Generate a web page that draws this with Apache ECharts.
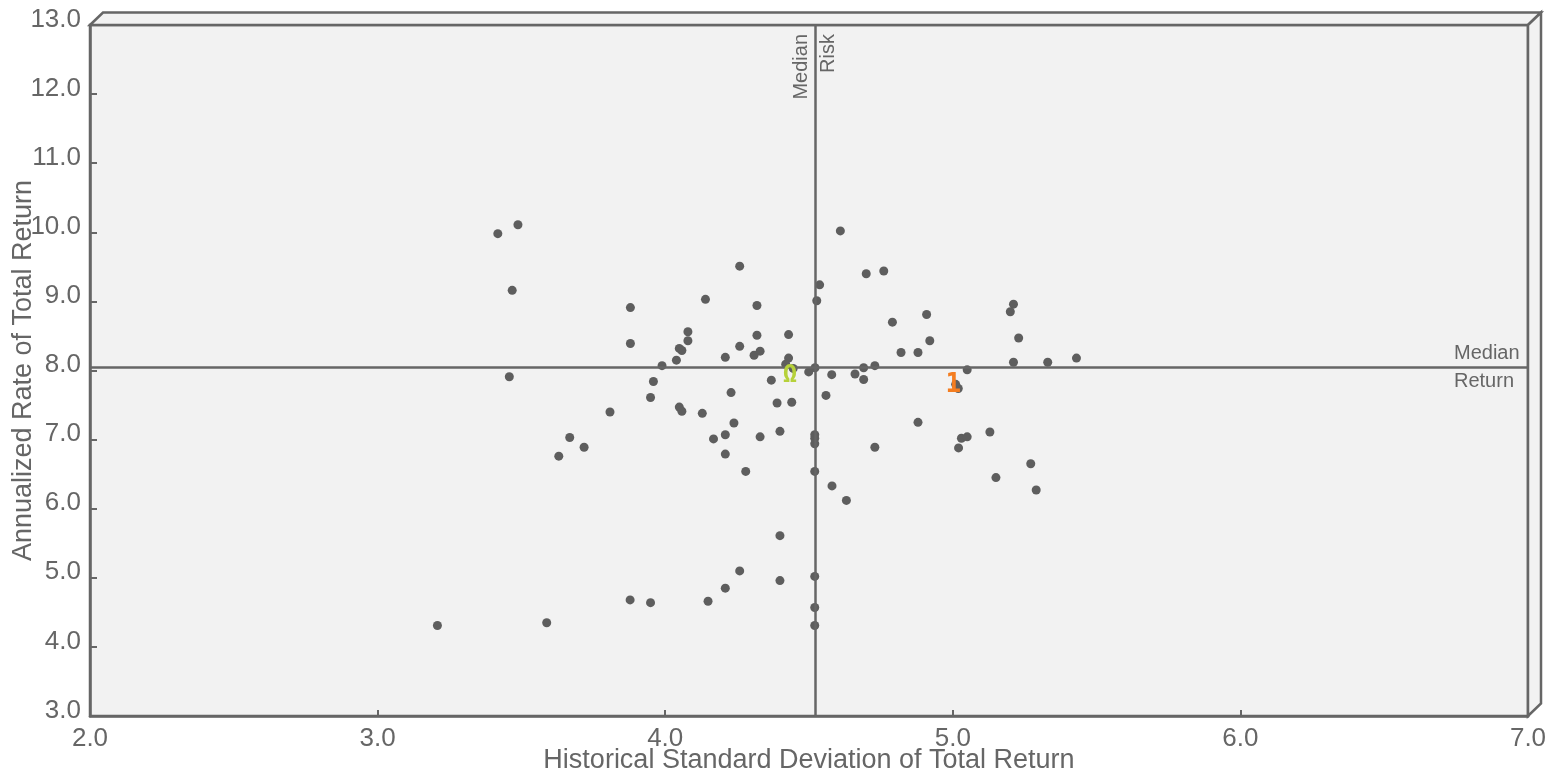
<!DOCTYPE html>
<html>
<head>
<meta charset="utf-8">
<script src="https://cdn.jsdelivr.net/npm/echarts@6/dist/echarts.min.js"></script>
<style>html,body{margin:0;padding:0;background:#fff}#c{width:1557px;height:777px}</style>
</head>
<body>
<div id="c"></div>
<script>
// Historical standard deviation (x) and annualized return (y) per fund
const riskValues = [3.418,3.488,3.468,3.458,3.879,3.879,4.259,4.140,4.319,4.079,
  4.079,4.049,4.058,4.039,3.989,4.209,4.259,4.319,4.309,4.330,
  4.429,4.429,4.419,4.445,4.499,4.521,4.537,4.527,4.369,3.959,
  3.949,4.229,3.808,4.049,4.058,4.129,4.389,4.440,4.239,3.668,
  3.718,3.630,4.168,4.209,4.330,4.399,4.209,4.520,4.520,4.520,
  4.280,4.520,4.580,4.630,4.399,4.520,4.399,4.259,4.209,4.149,
  3.878,3.949,3.588,3.208,4.520,4.520,4.609,4.699,4.760,4.790,
  4.909,4.920,4.820,4.879,5.211,5.200,5.229,5.211,5.330,5.430,
  5.050,4.729,4.690,4.690,4.660,4.579,4.559,5.019,5.010,4.879,
  5.030,5.050,5.129,5.020,4.729,5.271,5.150,5.290];
const returnValues = [9.98,10.11,9.16,7.91,8.91,8.39,9.51,9.03,8.94,8.56,
  8.43,8.32,8.29,8.15,8.07,8.19,8.35,8.51,8.22,8.28,
  8.52,8.18,8.09,8.03,7.98,8.04,9.24,9.01,7.86,7.84,
  7.61,7.68,7.40,7.47,7.41,7.38,7.53,7.54,7.24,7.03,
  6.89,6.76,7.01,7.07,7.04,7.12,6.79,7.07,7.02,6.94,
  6.54,6.54,6.33,6.12,5.61,5.02,4.96,5.10,4.85,4.66,
  4.68,4.64,4.35,4.31,4.57,4.31,10.02,9.40,9.44,8.70,
  8.81,8.43,8.26,8.26,8.96,8.85,8.47,8.12,8.12,8.18,
  8.01,8.07,8.04,7.87,7.95,7.94,7.64,7.74,7.80,7.25,
  7.02,7.04,7.11,6.88,6.89,6.65,6.45,6.27];
const medianRisk = 4.52;
const medianReturn = 8.04;
const highlightLabels = ['Ω', '1'];
const highlightRisk = [4.434, 5.002];
const highlightReturn = [7.92, 7.78];
const highlightColors = ['#b6d13a', '#f47d20'];
const xMin = 2, xMax = 7, yMin = 3, yMax = 13;
const xTitle = 'Historical Standard Deviation of Total Return';
const yTitle = 'Annualized Rate of Total Return';

const FONT = '"Liberation Sans", Arial, Helvetica, sans-serif';
const GRAY = '#666666';

const points = riskValues.map((x, i) => [x, returnValues[i]]);
const highlights = highlightLabels.map((t, i) => ({
  value: [highlightRisk[i], highlightReturn[i]],
  label: { formatter: t, color: highlightColors[i], fontSize: i === 0 ? 24 : 26 }
}));

const chart = echarts.init(document.getElementById('c'), null, { renderer: 'canvas' });
chart.setOption({
  animation: false,
  backgroundColor: '#ffffff',
  grid: {
    left: 90, right: 29, top: 25, bottom: 61,
    containLabel: false, outerBoundsMode: 'none',
    show: true, backgroundColor: '#f2f2f2', borderColor: GRAY, borderWidth: 2.5
  },
  xAxis: {
    type: 'value', min: xMin, max: xMax, interval: 1,
    name: xTitle, nameLocation: 'middle', nameGap: 31, nameMoveOverlap: false,
    nameTextStyle: { fontFamily: FONT, fontSize: 27, color: GRAY },
    axisLine: { show: true, lineStyle: { color: GRAY, width: 2.5 } },
    axisTick: { show: true, inside: true, length: 6, lineStyle: { color: GRAY, width: 2 } },
    axisLabel: { fontFamily: FONT, fontSize: 26, color: GRAY, margin: 10,
      formatter: v => v.toFixed(1) },
    splitLine: { show: false }
  },
  yAxis: {
    type: 'value', min: yMin, max: yMax, interval: 1,
    name: yTitle, nameLocation: 'middle', nameGap: 53, nameMoveOverlap: false,
    nameTextStyle: { fontFamily: FONT, fontSize: 27, color: GRAY },
    axisLine: { show: true, lineStyle: { color: GRAY, width: 2.5 } },
    axisTick: { show: true, inside: true, length: 7, lineStyle: { color: GRAY, width: 2 } },
    axisLabel: { fontFamily: FONT, fontSize: 26, color: GRAY, margin: 9,
      verticalAlign: 'bottom', lineHeight: 11,
      formatter: v => v.toFixed(1) },
    splitLine: { show: false }
  },
  series: [
    {
      type: 'scatter', z: 1, data: [], silent: true,
      markLine: {
        silent: true, symbol: 'none', animation: false,
        label: { show: false },
        lineStyle: { color: GRAY, width: 2.5, type: 'solid' },
        data: [{ xAxis: medianRisk }, { yAxis: medianReturn }]
      }
    },
    {
      type: 'scatter', z: 3, symbol: 'circle', symbolSize: 9,
      itemStyle: { color: '#5e5e5e', opacity: 1 },
      data: points
    },
    {
      type: 'scatter', z: 5, symbolSize: 1, silent: true,
      itemStyle: { color: 'rgba(0,0,0,0)' },
      label: { show: true, position: 'inside', fontFamily: '"DejaVu Sans Mono", monospace',
        fontWeight: 'bold', fontSize: 24, textBorderWidth: 0, textShadowBlur: 0, opacity: 1 },
      data: highlights
    }
  ]
});

// 3D box faces and median labels, positioned through the chart's own scales
const pTL = chart.convertToPixel({ gridIndex: 0 }, [xMin, yMax]);
const pBR = chart.convertToPixel({ gridIndex: 0 }, [xMax, yMin]);
const dx = 13, dy = -12.5;
const mx = chart.convertToPixel({ xAxisIndex: 0 }, medianRisk);
const my = chart.convertToPixel({ yAxisIndex: 0 }, medianReturn);
const faceStyle = { fill: '#f2f2f2', stroke: GRAY, lineWidth: 2.5, lineJoin: 'miter' };
chart.setOption({
  graphic: [
    { type: 'polygon', z: 10, shape: { points: [[pTL[0], pTL[1]], [pTL[0] + dx, pTL[1] + dy], [pBR[0] + dx, pTL[1] + dy], [pBR[0], pTL[1]]] }, style: faceStyle, silent: true },
    { type: 'polygon', z: 10, shape: { points: [[pBR[0], pTL[1]], [pBR[0] + dx, pTL[1] + dy], [pBR[0] + dx, pBR[1] + dy], [pBR[0], pBR[1]]] }, style: faceStyle, silent: true },
    { type: 'text', z: 20, x: mx, y: pTL[1] + 9, rotation: Math.PI / 2, silent: true,
      style: { text: 'Median\nRisk', fill: GRAY, font: '20px ' + FONT, align: 'right', verticalAlign: 'middle', lineHeight: 27 } },
    { type: 'text', z: 20, x: pBR[0] - 74, y: my, silent: true,
      style: { text: 'Median\nReturn', fill: GRAY, font: '20px ' + FONT, align: 'left', verticalAlign: 'middle', lineHeight: 28 } }
  ]
});
</script>
</body>
</html>
